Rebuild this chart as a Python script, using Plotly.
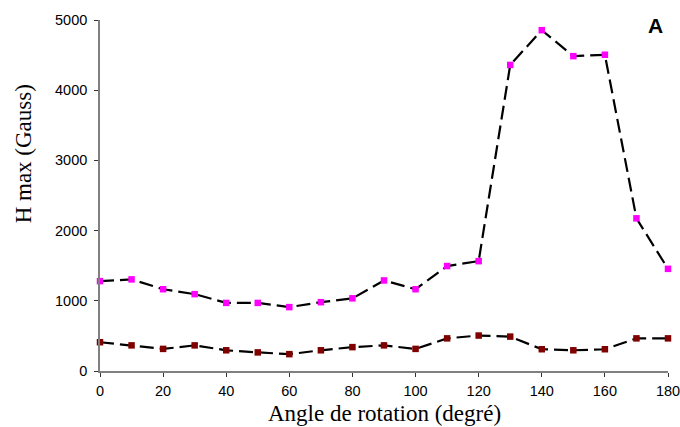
import plotly.graph_objects as go

angles = [0, 10, 20, 30, 40, 50, 60, 70, 80, 90, 100, 110, 120, 130, 140, 150, 160, 170, 180]
h_upper = [1280, 1305, 1165, 1095, 970, 970, 910, 980, 1035, 1290, 1165, 1495, 1565, 4360, 4855, 4485, 4505, 2175, 1455]
h_lower = [410, 365, 315, 365, 295, 265, 240, 295, 340, 365, 315, 465, 505, 490, 310, 295, 310, 465, 465]
x_ticks = [0, 20, 40, 60, 80, 100, 120, 140, 160, 180]
y_ticks = [0, 1000, 2000, 3000, 4000, 5000]

fig = go.Figure()
for vals, col in [(h_upper, "#FF00FF"), (h_lower, "#800000")]:
    fig.add_trace(go.Scatter(
        x=angles, y=vals, mode="lines+markers",
        line=dict(color="black", width=2.2, dash="14px,6px"),
        marker=dict(symbol="square", size=6.5, color=col, line=dict(width=0)),
        showlegend=False, cliponaxis=False, hoverinfo="skip",
    ))

tick_common = dict(showgrid=False, zeroline=False, tickcolor="#333333", tickwidth=1.3,
                   ticklen=4, automargin=False)
tickfont = dict(family="Liberation Sans, Arial", size=14.5, color="black")
titlefont = dict(family="Liberation Serif, Times New Roman", size=23, color="black")

# plot area in page pixels: x 100..668, y 20..371
fig.update_layout(
    width=680, height=427,
    margin=dict(l=100, r=12, t=20, b=56),
    paper_bgcolor="white", plot_bgcolor="white",
    xaxis=dict(range=[0, 180], tickvals=x_ticks, ticks="outside", showline=True,
               linecolor="#808080", linewidth=1.6, tickfont=tickfont, ticklabelstandoff=2,
               ticklabeloverflow="allow",
               **tick_common),
    yaxis=dict(range=[0, 5000], tickvals=y_ticks, ticks="outside", showline=True,
               linecolor="#808080", linewidth=1.6, tickfont=tickfont, ticklabelstandoff=4,
               ticklabeloverflow="allow",
               **tick_common),
    xaxis2=dict(range=[0, 180], tickvals=x_ticks, ticks="inside", overlaying="x", anchor="y",
                showticklabels=False, showline=False, **tick_common),
    yaxis2=dict(range=[0, 5000], tickvals=y_ticks, ticks="inside", overlaying="y", anchor="x",
                showticklabels=False, showline=False, **tick_common),
    annotations=[
        dict(text="<b>A</b>", x=0.978, y=0.9835, xref="paper", yref="paper",
             xanchor="center", yanchor="middle", showarrow=False,
             font=dict(family="Liberation Sans, Arial", size=21, color="black")),
        dict(text="H max (Gauss)", x=-0.1356, y=0.62, xref="paper", yref="paper",
             xanchor="center", yanchor="middle", textangle=-90, showarrow=False,
             font=titlefont),
        dict(text="Angle de rotation (degré)", x=0.5, y=-0.12, xref="paper", yref="paper",
             xanchor="center", yanchor="middle", showarrow=False, font=titlefont),
    ],
)
fig.write_html("out.html", config={"displayModeBar": False},
               post_script="document.body.style.margin='0px';document.body.style.overflow='hidden';")
